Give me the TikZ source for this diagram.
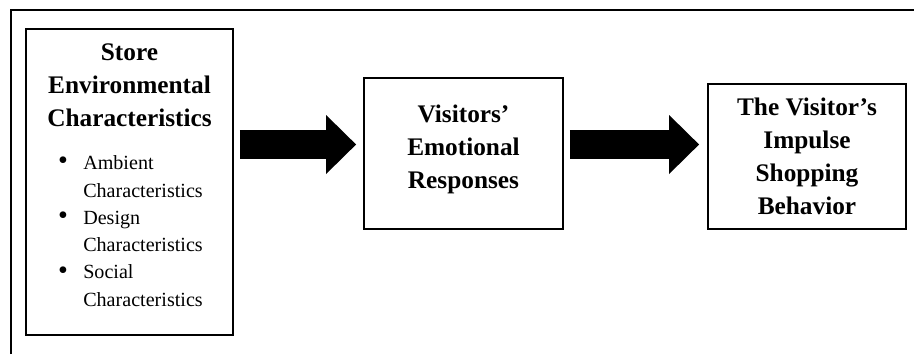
\documentclass[tikz,border=0pt]{standalone}
\usepackage{fontspec}
\setmainfont{Liberation Serif}
\usetikzlibrary{arrows.meta}

\tikzset{
  box/.style={draw, line width=1.3pt, inner sep=0pt, align=center,
    font=\fontsize{18}{23.5}\selectfont\bfseries},
  heading/.style={inner sep=0pt, align=center,
    font=\fontsize{18}{23.5}\selectfont\bfseries},
  itemtext/.style={inner sep=0pt, align=left, anchor=west,
    font=\fontsize{14.3}{19.4}\selectfont},
  itemdot/.style={inner sep=0pt, font=\fontsize{20}{20}\selectfont},
  bigarrow/.style={line width=0.725cm,
    -{Triangle[length=0.75cm, width=1.475cm, line width=0pt]}},
}

\begin{document}
\begin{tikzpicture}
    \useasboundingbox (0,0) rectangle (22.85,8.85);

    %Marco
    \draw[line width=1.3pt] (0.275,0) -- (0.275,8.6) -- (22.85,8.6);

    %Caja izq
    \node[box, minimum width=5.175cm, minimum height=7.65cm] (env) at (3.2375,4.3) {};
    \node[heading] (envtitle) at (3.2375,6.725) {Store\\Environmental\\Characteristics};

    \node[itemdot] (dot1) at (1.575,4.775) {\textbullet};
    \node[itemtext] (amb) at (2.075,4.4375) {Ambient\\Characteristics};
    \node[itemdot] (dot2) at (1.575,3.4) {\textbullet};
    \node[itemtext] (des) at (2.075,3.06) {Design\\Characteristics};
    \node[itemdot] (dot3) at (1.575,2.025) {\textbullet};
    \node[itemtext] (soc) at (2.075,1.7125) {Social\\Characteristics};

    %Caja centro
    \node[box, minimum width=4.975cm, minimum height=3.775cm] (emo) at (11.5875,5.0125) {};
    \node[heading] (emotitle) at (11.5875,5.1125) {Visitors'\\Emotional\\Responses};

    %Caja der
    \node[box, minimum width=4.95cm, minimum height=3.625cm] (imp) at (20.175,4.9375)
        {The Visitor's\\Impulse\\Shopping\\Behavior};

    %Flechas
    \coordinate (mid) at (0,5.2375);
    \draw[bigarrow, shorten <=0.15cm, shorten >=0.175cm] (env.east |- mid) -- (emo.west |- mid);
    \draw[bigarrow, shorten <=0.15cm, shorten >=0.2cm] (emo.east |- mid) -- (imp.west |- mid);
\end{tikzpicture}
\end{document}
